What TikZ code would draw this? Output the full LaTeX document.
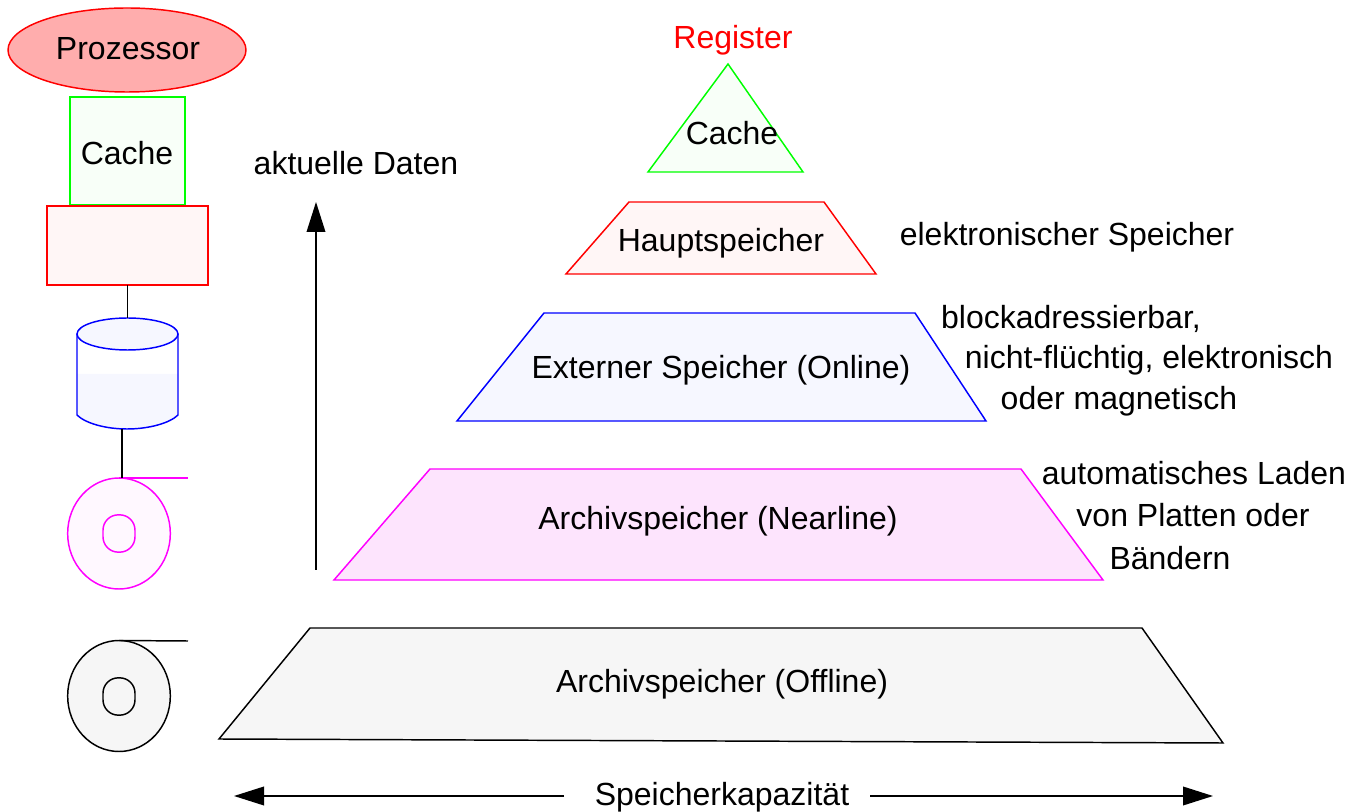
\documentclass[tikz,border=0pt]{standalone}
\usepackage{fontspec}
\setmainfont{Liberation Sans}
\usetikzlibrary{shapes.geometric,arrows.meta}
\definecolor{fProz}{HTML}{FFADAD}
\definecolor{fCache}{HTML}{F8FFF8}
\definecolor{fHaupt}{HTML}{FFF6F6}
\definecolor{fExt}{HTML}{F6F7FF}
\definecolor{fNear}{HTML}{FDE4FD}
\definecolor{fTape}{HTML}{FFF8FF}
\definecolor{fOff}{HTML}{F6F6F6}
\definecolor{mag}{HTML}{FF00FF}
\definecolor{grn}{HTML}{00FF00}
\definecolor{blu}{HTML}{0000FF}
\definecolor{rd}{HTML}{FF0000}
\tikzset{
  x=0.75pt,y=-0.75pt,
  every node/.style={font=\fontsize{24pt}{28pt}\selectfont,inner sep=0pt,outer sep=0pt},
  ln/.style={line width=1.1pt},
  lbl/.style={anchor=base,text=black},
  bigarrow/.style={ln,-{Triangle[length=22.5pt,width=14pt]}},
}
\begin{document}
\begin{tikzpicture}
\useasboundingbox (0,0) rectangle (1361,812);
% left column
\node[ellipse,draw=rd,fill=fProz,ln,minimum width=178.5pt,minimum height=63pt] (proz) at (127,50) {};
\node[lbl] at (128,60) {Prozessor};
\node[rectangle,draw=grn,fill=fCache,ln,minimum width=86pt,minimum height=81pt] (cacheL) at (127.5,151) {};
\node[lbl] at (127,165) {Cache};
\node[rectangle,draw=rd,fill=fHaupt,ln,minimum width=121pt,minimum height=59pt] (hauptL) at (127.5,245.5) {};
% disk
\fill[fExt] (77,374) -- (178,374) -- (178,415) .. controls (170,423) and (149,429) .. (127,429) .. controls (105,429) and (85,423) .. (77,415) -- cycle;
\draw[blu,ln] (77,334) -- (77,415) .. controls (85,423) and (105,429) .. (127,429) .. controls (149,429) and (170,423) .. (178,415) -- (178,334);
\node[ellipse,draw=blu,fill=fExt,ln,minimum width=75.75pt,minimum height=24pt] (disk) at (127.5,334) {};
\coordinate (diskB) at (122,429);
\draw[ln,black] (hauptL.south) -- (disk.north);
% tape magenta
\node[ellipse,draw=mag,fill=fTape,ln,minimum width=77pt,minimum height=83.25pt] (tapeA) at (119,533.5) {};
\node[rectangle,rounded corners=11.5pt,draw=mag,ln,minimum width=24pt,minimum height=28pt] (holeA) at (119,533.5) {};
\coordinate (tapeAt) at (122,478);
\coordinate (tapeAe) at (188,478);
\draw[mag,ln] (tapeA.north) -- (tapeAe);
\draw[ln,black] (diskB) -- (tapeAt);
% tape black
\node[ellipse,draw=black,fill=fOff,ln,minimum width=77pt,minimum height=83.25pt] (tapeB) at (119,696) {};
\node[rectangle,rounded corners=11.5pt,draw=black,ln,minimum width=24pt,minimum height=28pt] (holeB) at (119,696.5) {};
\coordinate (tapeBe) at (188,641);
\draw[black,ln] (tapeB.north) -- (tapeBe);
% vertical arrow
\coordinate (upS) at (316,570);
\coordinate (upE) at (316,202);
\draw[bigarrow] (upS) -- (upE);
\node[lbl] at (356,175) {aktuelle Daten};
% pyramid
\node[lbl,text=rd] at (733,49) {Register};
\draw[grn,ln,fill=fCache] (728,64) -- (803,172) -- (648,172) -- cycle;
\node[lbl] at (732,145) {Cache};
\draw[rd,ln,fill=fHaupt] (629,202) -- (824,202) -- (876,274) -- (566,274) -- cycle;
\node[lbl] at (721,252) {Hauptspeicher};
\draw[blu,ln,fill=fExt] (544,313) -- (915,313) -- (986,421) -- (457,421) -- cycle;
\node[lbl] at (721,379) {Externer Speicher (Online)};
\draw[mag,ln,fill=fNear] (430,469) -- (1021,469) -- (1103,580) -- (334,580) -- cycle;
\node[lbl] at (718,530) {Archivspeicher (Nearline)};
\draw[black,ln,fill=fOff] (310,628) -- (1142,628) -- (1223,743) -- (219,739) -- cycle;
\node[lbl] at (722,692) {Archivspeicher (Offline)};
% right labels
\node[lbl] at (1067,246) {elektronischer Speicher};
\node[lbl] at (1071,329) {blockadressierbar,};
\node[lbl] at (1149,369) {nicht-flüchtig, elektronisch};
\node[lbl] at (1119,410) {oder magnetisch};
\node[lbl] at (1194,485) {automatisches Laden};
\node[lbl] at (1193,527) {von Platten oder};
\node[lbl] at (1170,570) {Bändern};
% capacity
\node[lbl] (kap) at (722,805) {Speicherkapazität};
\coordinate (kapL) at (234,796);
\coordinate (kapR) at (1213,796);
\coordinate (kapLs) at (564,796);
\coordinate (kapRs) at (870,796);
\draw[bigarrow] (kapLs) -- (kapL);
\draw[bigarrow] (kapRs) -- (kapR);
\end{tikzpicture}
\end{document}
